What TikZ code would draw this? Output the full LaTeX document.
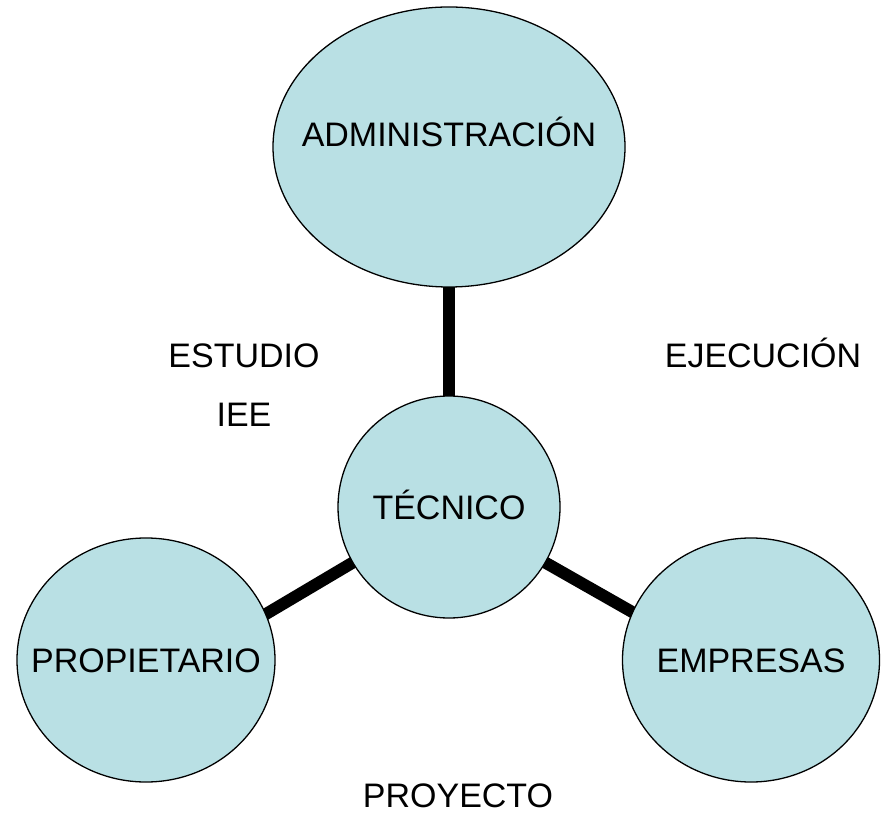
\documentclass[tikz,border=0pt]{standalone}
\usepackage{fontspec}
\setmainfont{Liberation Sans}
\usetikzlibrary{shapes.geometric,backgrounds}
\definecolor{celeste}{RGB}{185,224,228}
\begin{document}
\begin{tikzpicture}[x=0.03cm,y=0.03cm]

% Estilos
\tikzstyle{burbuja} =	[ellipse, draw, line width=1.1pt, fill=celeste, inner sep=0pt, text height=0.73cm, text depth=0pt, font=\fontsize{29}{34}\selectfont]
\tikzstyle{rotulo} =	[anchor=base, inner sep=0pt, font=\fontsize{29}{34}\selectfont]
\tikzstyle{enlace} =	[line width=0.36cm, shorten <=-3pt, shorten >=-3pt]

	\useasboundingbox (0,0) rectangle (881,812);

	% Burbujas
	\node[burbuja, minimum width=10.56cm, minimum height=8.4cm, text depth=0.78cm] (administracion) at (449,665) {\makebox[0pt]{ADMINISTRACIÓN}};
	\node[burbuja, minimum width=6.66cm, minimum height=6.66cm] (tecnico) at (449,305) {\makebox[0pt]{TÉCNICO}};
	\node[burbuja, minimum width=7.74cm, minimum height=7.32cm] (propietario) at (146,152) {\makebox[0pt]{PROPIETARIO}};
	\node[burbuja, minimum width=7.71cm, minimum height=7.32cm] (empresas) at (751,152) {\makebox[0pt]{EMPRESAS}};

	% Enlaces
	\begin{scope}[on background layer]
	\draw[enlace] (administracion) -- (tecnico); % arriba
	\draw[enlace] (tecnico.210) -- (propietario.21); % izquierda
	\draw[enlace] (tecnico.330) -- (empresas.158); % derecha
	\end{scope}

	% Textos sueltos
	\node[rotulo] (estudio) at (244,444) {ESTUDIO};
	\node[rotulo] (iee) at (244,385) {IEE};
	\node[rotulo] (ejecucion) at (763,444) {EJECUCIÓN};
	\node[rotulo] (proyecto) at (458,5) {PROYECTO};

\end{tikzpicture}
\end{document}
